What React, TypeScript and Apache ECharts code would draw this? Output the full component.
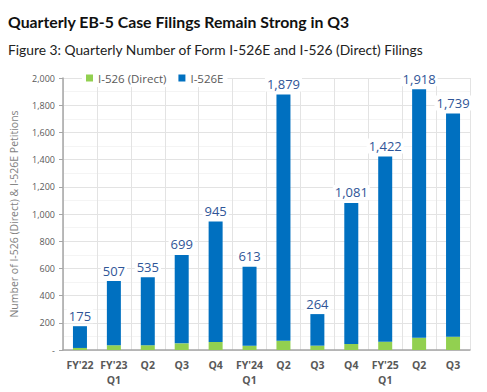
import React, { useEffect, useRef } from "react";
import * as echarts from "echarts";

const categories = ["FY'22", "FY'23\nQ1", "Q2", "Q3", "Q4", "FY'24\nQ1", "Q2", "Q3", "Q4", "FY'25\nQ1", "Q2", "Q3"];
const totals = [175, 507, 535, 699, 945, 613, 1879, 264, 1081, 1422, 1918, 1739];
const directFilings = [15, 35, 35, 49, 59, 32, 68, 32, 44, 61, 90, 98];
const regionalFilings = totals.map((t, i) => t - directFilings[i]);
const yTicks = [0, 200, 400, 600, 800, 1000, 1200, 1400, 1600, 1800, 2000];

export default function App() {
  const ref = useRef<HTMLDivElement>(null);
  useEffect(() => {
    if (!ref.current) return;
    const chart = echarts.init(ref.current, null, { renderer: "svg" });
    chart.setOption({
      animation: false,
      backgroundColor: "#ffffff",
      title: [
        {
          text: "Quarterly EB-5 Case Filings Remain Strong in Q3",
          left: 3,
          top: 8,
          textStyle: { fontFamily: "Lato", fontWeight: "bold", fontSize: 15.8, color: "#111111" },
        },
        {
          text: "Figure 3: Quarterly Number of Form I-526E and I-526 (Direct) Filings",
          left: 3,
          top: 37,
          textStyle: { fontFamily: "Lato", fontWeight: "normal", fontSize: 13.8, color: "#222222" },
        },
      ],
      legend: {
        left: 82,
        top: 69,
        itemWidth: 7,
        itemHeight: 7,
        itemGap: 12,
        padding: [3, 4],
        backgroundColor: "#ffffff",
        icon: "rect",
        textStyle: { fontFamily: "Open Sans", fontSize: 11.5, color: "#595959" },
        data: ["I-526 (Direct)", "I-526E"],
      },
      grid: { left: 61, right: 17, top: 78, bottom: 42 },
      xAxis: {
        type: "category",
        data: categories,
        axisLine: { lineStyle: { color: "#a6a6a6", width: 1.5 } },
        axisTick: { show: false },
        splitLine: { show: true, lineStyle: { color: "#e3e3e3" } },
        axisLabel: {
          fontFamily: "Open Sans",
          fontWeight: "bold",
          fontSize: 10.5,
          color: "#595959",
          lineHeight: 15,
          margin: 7,
          interval: 0,
        },
      },
      yAxis: {
        type: "value",
        min: 0,
        max: 2000,
        interval: 200,
        name: "Number of I-526 (Direct) & I-526E Petitions",
        nameLocation: "middle",
        nameGap: 44,
        nameTextStyle: { fontFamily: "Open Sans", fontSize: 10.5, color: "#7f7f7f" },
        axisLine: { show: true, lineStyle: { color: "#a6a6a6", width: 1.5 } },
        axisTick: { show: true, length: 4, lineStyle: { color: "#a6a6a6" } },
        splitLine: { show: true, lineStyle: { color: "#e3e3e3" } },
        minorTick: { show: false, splitNumber: 2 },
        minorSplitLine: { show: true, lineStyle: { color: "#f4f4f4" } },
        axisLabel: {
          fontFamily: "Open Sans",
          fontSize: 9,
          color: "#595959",
          margin: 8,
          formatter: (v: number) => (v === 0 ? "-" : v.toLocaleString("en-US")),
          customValues: yTicks,
        },
      },
      series: [
        {
          name: "I-526 (Direct)",
          type: "bar",
          stack: "total",
          barWidth: 14,
          data: directFilings,
          itemStyle: { color: "#92D050" },
        },
        {
          name: "I-526E",
          type: "bar",
          stack: "total",
          barWidth: 14,
          data: regionalFilings,
          itemStyle: { color: "#0070C0" },
          label: {
            show: true,
            position: "top",
            distance: 3,
            fontFamily: "Open Sans",
            fontSize: 13,
            color: "#2F5597",
            backgroundColor: "#ffffff",
            padding: [1, 2],
            formatter: (p: any) => totals[p.dataIndex].toLocaleString("en-US"),
          },
        },
      ],
    });
    return () => chart.dispose();
  }, []);
  return <div ref={ref} style={{ position: "fixed", left: 0, top: 0, width: 487, height: 392 }} />;
}
